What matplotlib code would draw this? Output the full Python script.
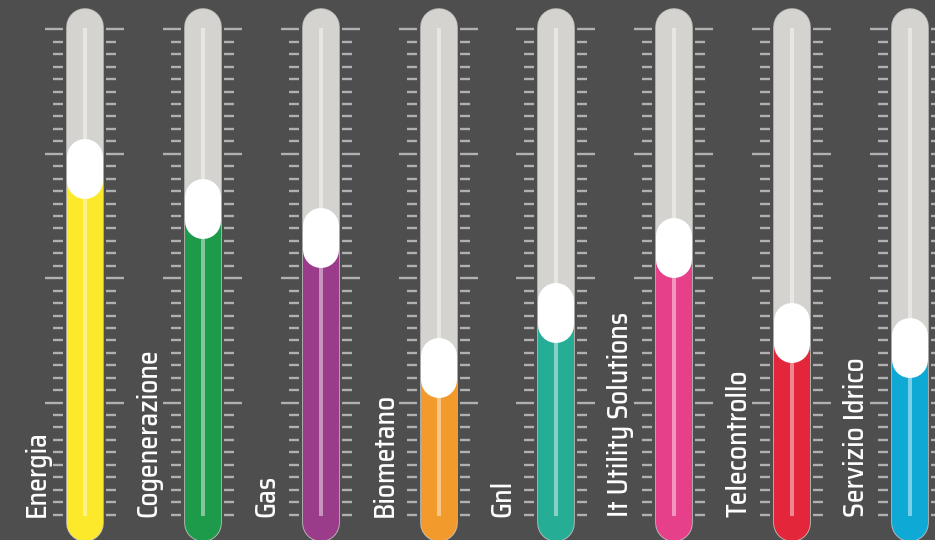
import matplotlib
matplotlib.use("Agg")
import matplotlib.pyplot as plt
import numpy as np

# ---- data ----
categories = ["Energia", "Cogenerazione", "Gas", "Biometano", "Gnl",
              "It Utility Solutions", "Telecontrollo", "Servizio Idrico"]
values = [72, 64, 58, 32, 43, 56, 39, 36]
colors = ["#fde92b", "#1d9a4a", "#9b3c8b", "#f39a2c", "#25ad96",
          "#e6408a", "#e32639", "#0eaad5"]
tick_values = np.arange(2.5, 100.1, 2.5)
major_ticks = [25, 50, 75, 100]

# ---- style ----
BG = "#4e4e4e"
TRACK = "#d4d3cf"
TICK = "#b0b0b0"
DPI = 100
W, H = 935, 540

PX_X = 117.86          # pixels per category unit
PX_Y = 4.976           # pixels per value unit

fig = plt.figure(figsize=(W / DPI, H / DPI), dpi=DPI, facecolor=BG)
ax = fig.add_axes([0, 0, 1, 1])
ax.set_facecolor(BG)
ax.set_xlim(-85 / PX_X, 7 + 25 / PX_X)
ax.set_ylim(-13 / PX_Y, 527 / PX_Y)
ax.axis("off")

def px2pt(p):
    return p * 72 / DPI

track_w = px2pt(36)
track_top = 100.5
track_bot = 0.8
knob_half = 12 / PX_Y

for i, (cat, v, c) in enumerate(zip(categories, values, colors)):
    # ticks
    for t in tick_values:
        major = t in major_ticks
        ax.plot([i - (40 if major else 32) / PX_X, i - 22 / PX_X], [t, t],
                color=TICK, lw=1.7, solid_capstyle="butt", zorder=1)
        ax.plot([i + 21 / PX_X, i + (39 if major else 31) / PX_X], [t, t],
                color=TICK, lw=1.7, solid_capstyle="butt", zorder=1)
    # track
    ax.plot([i, i], [track_bot, track_top], color="#bdbcb8", lw=track_w + 1.2,
            solid_capstyle="round", zorder=2)
    ax.plot([i, i], [track_bot, track_top], color=TRACK, lw=track_w,
            solid_capstyle="round", zorder=2)
    # fill
    ax.plot([i, i], [track_bot, v], color=c, lw=track_w,
            solid_capstyle="round", zorder=3)
    ax.plot([i, i], [v - 1, v], color=c, lw=track_w,
            solid_capstyle="butt", zorder=3)
    # center line
    ax.plot([i, i], [2.2, 100.3], color="white", alpha=0.45, lw=px2pt(4),
            solid_capstyle="butt", zorder=4)
    # knob
    ax.plot([i, i], [v - knob_half, v + knob_half], color="white", lw=track_w,
            solid_capstyle="round", zorder=5)
    # label (kept inside the left edge of the figure)
    lx = max(i - 40 / PX_X, -34 / PX_X)
    ax.text(lx, 2.0, cat, rotation=90, ha="right", va="bottom",
            color="white", fontsize=20, family=["Saira SemiCondensed", "DejaVu Sans"],
            fontweight="medium", zorder=6)

fig.savefig("out.png", dpi=DPI, facecolor=BG)
